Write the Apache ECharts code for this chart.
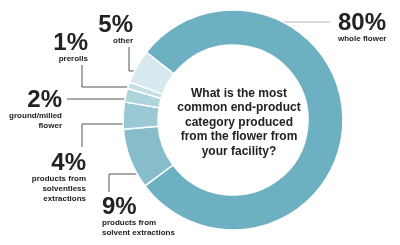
<!DOCTYPE html>
<html><head><meta charset="utf-8">
<script src="https://cdn.jsdelivr.net/npm/echarts@6/dist/echarts.min.js"></script>
<style>html,body{margin:0;padding:0;background:#fff}#c{width:400px;height:245px}</style>
</head><body><div id="c"></div>
<script>
// Data (clockwise order from the top-left boundary)
const categories = ['whole flower', 'products from\nsolvent extractions', 'products from\nsolventless\nextractions', 'ground/milled\nflower', 'prerolls', 'other'];
const percents = [80, 9, 4, 2, 1, 5];
const question = 'What is the most\ncommon end-product\ncategory produced\nfrom the flower from\nyour facility?';

// Styling / layout (not data)
const colors = ['#6db0c2', '#87bdcb', '#9ac8d4', '#add3dd', '#c3dfe6', '#d7e9ee'];
const labelPos = [
  {x: 338, y: 12,  align: 'left',  line: [[245, 22], [330, 22]], lineColor: '#b5b5b5'},
  {x: 102, y: 196, align: 'left',  line: [[150, 174], [109, 174], [109, 192]]},
  {x: 86,  y: 152, align: 'right', line: [[132, 124], [82, 124], [82, 147]]},
  {x: 62,  y: 89,  align: 'right', line: [[128, 99], [67, 99]]},
  {x: 88,  y: 32,  align: 'right', line: [[132, 87], [82, 87], [82, 65]]},
  {x: 133, y: 14,  align: 'right', line: [[149, 71], [129, 71], [129, 47]]}
];

const chart = echarts.init(document.getElementById('c'), null, {renderer: 'canvas'});
chart.setOption({
  animation: false,
  title: {
    text: question,
    left: 234, top: 81, textAlign: 'center',
    textStyle: {fontFamily: 'Liberation Sans', fontWeight: 'bold', fontSize: 12, lineHeight: 14.5, color: '#222'}
  },
  series: [{
    type: 'pie',
    center: [233, 120],
    radius: [75, 110],
    startAngle: 142,
    clockwise: true,
    silent: true,
    avoidLabelOverlap: false,
    data: percents.map((v, i) => ({
      value: v, name: categories[i],
      itemStyle: {color: colors[i]},
      labelLine: {lineStyle: {color: labelPos[i].lineColor || '#555'}}
    })),
    itemStyle: {borderColor: '#fff', borderWidth: 1.5},
    label: {
      show: true,
      formatter: '{pct|{c}%}\n{nm|{b}}',
      rich: {
        pct: {fontFamily: 'Liberation Sans', fontWeight: 'bold', fontSize: 24, lineHeight: 22, color: '#222'},
        nm: {fontFamily: 'Liberation Sans', fontWeight: 'bold', fontSize: 8, lineHeight: 10, color: '#222'}
      }
    },
    labelLine: {show: true, lineStyle: {width: 1, color: '#555'}},
    labelLayout: function (p) {
      const L = labelPos[p.dataIndex];
      return {x: L.x, y: L.y, align: L.align, verticalAlign: 'top', labelLinePoints: L.line};
    }
  }]
});
</script></body></html>
